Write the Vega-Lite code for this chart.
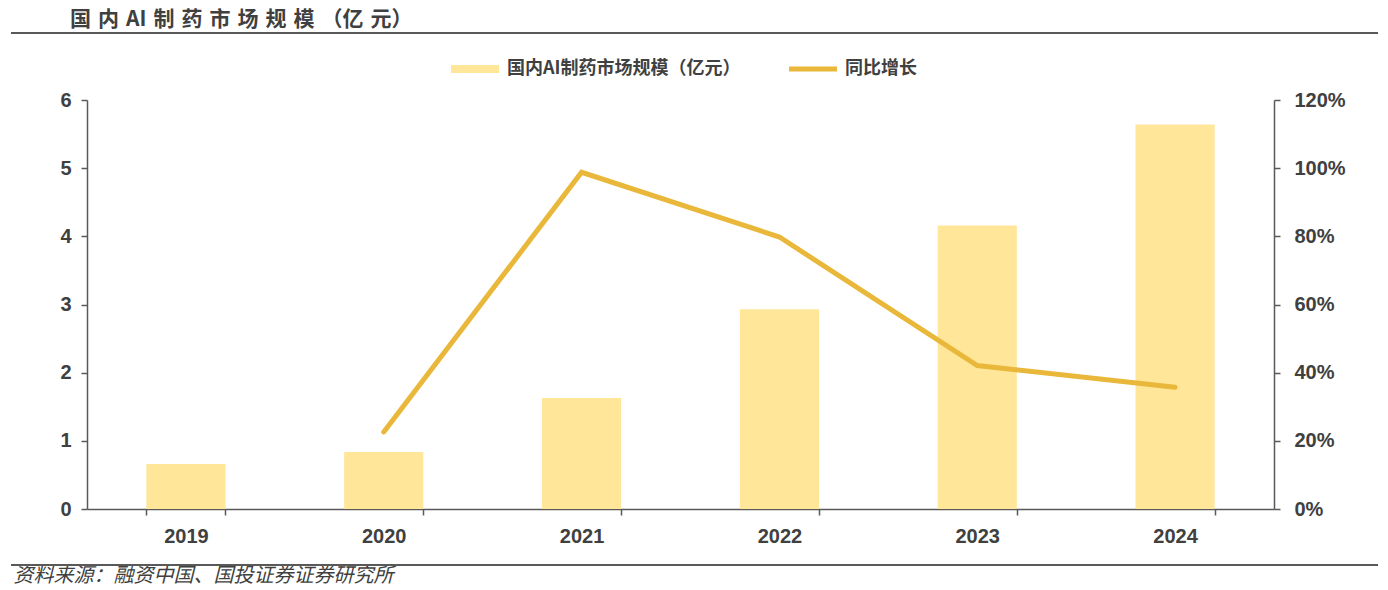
{
  "$schema": "https://vega.github.io/schema/vega-lite/v6.json",
  "width": 1187,
  "height": 409,
  "autosize": {"type": "none"},
  "padding": {"left": 87, "top": 100, "right": 114, "bottom": 81},
  "background": "#ffffff",
  "config": {
    "view": {"stroke": null},
    "font": "Noto Sans CJK SC",
    "axis": {
      "domainColor": "#595959",
      "domainWidth": 1.5,
      "tickColor": "#595959",
      "tickWidth": 1.5,
      "tickSize": 6,
      "labelColor": "#404040",
      "labelFont": "Liberation Sans",
      "labelFontWeight": "bold",
      "labelFontSize": 20,
      "grid": false
    }
  },
  "title": {
    "text": "国\u2004内\u2004AI\u2004制\u2004药\u2004市\u2004场\u2004规\u2004模\u2004（亿\u2004元）",
    "anchor": "start",
    "frame": "group",
    "offset": 2,
    "dx": -17,
    "fontSize": 21,
    "fontWeight": "bold",
    "color": "#404040",
    "font": "Noto Sans CJK SC"
  },
  "datasets": {
    "main": [
      {"year": "2019", "scale": 0.66, "growth": null},
      {"year": "2020", "scale": 0.835, "growth": 0.226},
      {"year": "2021", "scale": 1.63, "growth": 0.988},
      {"year": "2022", "scale": 2.93, "growth": 0.798},
      {"year": "2023", "scale": 4.16, "growth": 0.421},
      {"year": "2024", "scale": 5.64, "growth": 0.357}
    ]
  },
  "layer": [
    {
      "data": {"name": "main"},
      "transform": [{"calculate": "'国内AI制药市场规模（亿元）'", "as": "series"}],
      "mark": {"type": "bar"},
      "encoding": {
        "x": {
          "field": "year",
          "type": "nominal",
          "scale": {"paddingInner": 0.6, "paddingOuter": 0.3},
          "axis": {
            "labelAngle": 0,
            "tickBand": "extent",
            "labelPadding": 11,
            "title": "资料来源：融资中国、国投证券证券研究所",
            "titleFont": "Noto Sans CJK SC",
            "titleFontStyle": "italic",
            "titleFontWeight": "normal",
            "titleFontSize": 20,
            "titleColor": "#404040",
            "titleAnchor": "start",
            "titleAlign": "left",
            "titleBaseline": "alphabetic",
            "titleX": -74,
            "titleY": 72
          }
        },
        "y": {
          "field": "scale",
          "type": "quantitative",
          "scale": {"domain": [0, 6]},
          "axis": {"values": [0, 1, 2, 3, 4, 5, 6], "title": null, "labelPadding": 10}
        },
        "color": {
          "field": "series",
          "type": "nominal",
          "scale": {"domain": ["国内AI制药市场规模（亿元）", "同比增长"], "range": ["#FFE699", "#E9B83A"]},
          "legend": {
            "title": null,
            "orient": "none",
            "legendX": 364,
            "legendY": -55,
            "direction": "horizontal",
            "symbolType": "M-1,-0.17H1V0.17H-1Z",
            "symbolSize": 2304,
            "symbolStrokeWidth": 0,
            "labelFont": "Noto Sans CJK SC",
            "labelFontSize": 18,
            "labelFontWeight": "bold",
            "labelColor": "#404040",
            "labelOffset": 8,
            "columnPadding": 48,
            "labelLimit": 400,
            "encode": {
              "symbols": {
                "update": {
                  "shape": {"signal": "datum.value === '同比增长' ? 'M-1,-0.1H1V0.1H-1Z' : 'M-1,-0.17H1V0.17H-1Z'"},
                  "fill": {"signal": "datum.value === '同比增长' ? '#E9B83A' : '#FFE699'"},
                  "strokeWidth": {"value": 0},
                  "opacity": {"value": 1}
                }
              }
            }
          }
        }
      }
    },
    {
      "data": {"name": "main"},
      "transform": [{"filter": "datum.growth != null"}, {"calculate": "'同比增长'", "as": "series"}],
      "mark": {"type": "line", "strokeWidth": 5, "strokeCap": "round"},
      "encoding": {
        "x": {"field": "year", "type": "nominal"},
        "y": {
          "field": "growth",
          "type": "quantitative",
          "scale": {"domain": [0, 1.2]},
          "axis": {"values": [0, 0.2, 0.4, 0.6, 0.8, 1.0, 1.2], "format": ".0%", "title": null, "orient": "right", "labelPadding": 14}
        },
        "color": {"field": "series", "type": "nominal"}
      }
    },
    {
      "data": {"values": [{"line": "top"}]},
      "mark": {"type": "rule", "color": "#595959", "strokeWidth": 2},
      "encoding": {"x": {"value": -76}, "x2": {"value": 1291}, "y": {"value": -67}}
    },
    {
      "data": {"values": [{"line": "bottom"}]},
      "mark": {"type": "rule", "color": "#595959", "strokeWidth": 2},
      "encoding": {"x": {"value": -76}, "x2": {"value": 1291}, "y": {"value": 465}}
    }
  ],
  "resolve": {"scale": {"y": "independent"}, "axis": {"y": "independent"}}
}
